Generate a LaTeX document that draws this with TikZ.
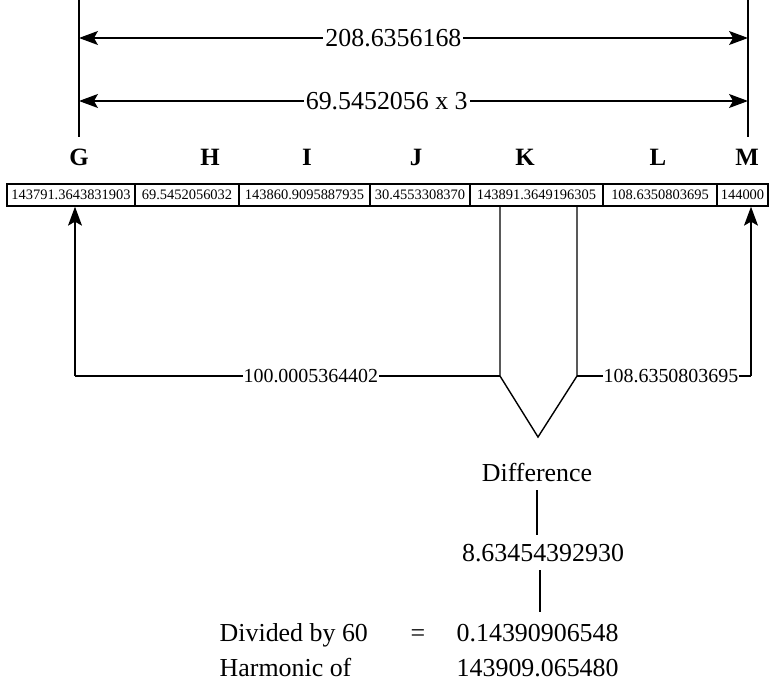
\documentclass[tikz,border=0pt]{standalone}
\usepackage{fontspec}
\setmainfont{Liberation Serif}
\usetikzlibrary{arrows.meta}

\begin{document}
\begin{tikzpicture}[x=1bp,y=-1bp,line width=1.4bp,
  arr/.style={-{Stealth[length=19pt,width=14pt,inset=4pt]}},
  darr/.style={{Stealth[length=19pt,width=14pt,inset=4pt]}-{Stealth[length=19pt,width=14pt,inset=4pt]}},
  cell/.style={draw,minimum height=22bp,inner sep=0pt,font=\fontsize{14.5}{14.5}\selectfont},
  colname/.style={font=\fontsize{25}{25}\selectfont\bfseries},
  toplab/.style={fill=white,inner sep=2bp,font=\fontsize{26}{26}\selectfont},
  sidelab/.style={fill=white,inner sep=1bp,font=\fontsize{20}{20}\selectfont},
  biglab/.style={inner sep=0pt,font=\fontsize{26}{26}\selectfont}]
\useasboundingbox (0,0) rectangle (779,683);
% the row of cells
\node[cell,minimum width=128bp] (g) at (71,195) {143791.3643831903};
\node[cell,minimum width=104bp] (h) at (187,195) {69.5452056032};
\node[cell,minimum width=131bp] (i) at (304.5,195) {143860.9095887935};
\node[cell,minimum width=100bp] (j) at (420,195) {30.4553308370};
\node[cell,minimum width=133bp] (k) at (536.5,195) {143891.3649196305};
\node[cell,minimum width=114bp] (l) at (660,195) {108.6350803695};
\node[cell,minimum width=51bp] (m) at (742.5,195) {144000};
% column letters
\node[colname] (lg) at (79,157) {G};
\node[colname] (lh) at (210,157) {H};
\node[colname] (li) at (307,157) {I};
\node[colname] (lj) at (416,157) {J};
\node[colname] (lk) at (525,157) {K};
\node[colname] (ll) at (658,157) {L};
\node[colname] (lm) at (747,157) {M};
% spans above
\coordinate (gtop) at (79,0);
\coordinate (mtop) at (748,0);
\draw (gtop) -- (79,137);
\draw (mtop) -- (748,137);
\draw[darr] (79,38) -- node[toplab,pos=.47]{208.6356168} (748,38);
\draw[darr] (79,101) -- node[toplab,pos=.46]{69.5452056 x 3} (748,101);
% differences below
\coordinate (gl) at (75,376);
\coordinate (mr) at (751,376);
\coordinate (kl) at (500,376);
\coordinate (kr) at (577,376);
\coordinate (kv) at (538,437);
\draw[arr] (gl) -- (gl |- g.south);
\draw[arr] (mr) -- (mr |- m.south);
\draw (kl |- k.south) -- (kl) -- (kv) -- (kr) -- (kr |- k.south);
\draw (gl) -- node[sidelab,pos=.555]{100.0005364402} (kl);
\draw (kr) -- node[sidelab,pos=.54]{108.6350803695} (mr);
% result
\node[biglab] (diff) at (537,473) {Difference};
\node[biglab] (val) at (543,553) {8.63454392930};
\node[biglab,anchor=base west] (div) at (219,641) {Divided by 60};
\node[biglab,anchor=base] (eq) at (418,641) {=};
\node[biglab,anchor=base west] (quot) at (456,641) {0.14390906548};
\node[biglab,anchor=base west] (harm) at (219,676) {Harmonic of};
\node[biglab,anchor=base west] (hval) at (456,676) {143909.065480};
\coordinate (d1) at (537,490);
\coordinate (d2) at (537,535);
\coordinate (v1) at (540,570);
\coordinate (v2) at (540,612);
\draw (d1) -- (d2);
\draw (v1) -- (v2);
\end{tikzpicture}
\end{document}
